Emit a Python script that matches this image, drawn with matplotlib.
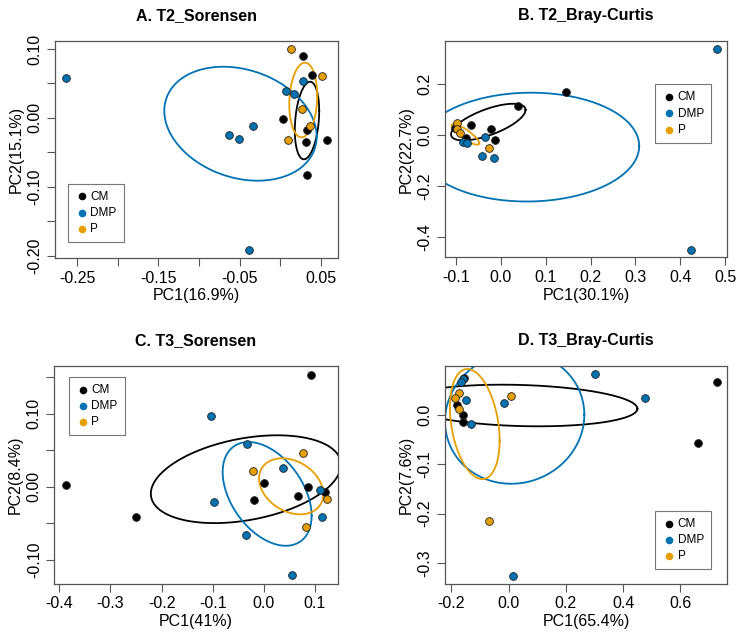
import numpy as np
import matplotlib.pyplot as plt

plt.rcParams['font.family'] = ['Liberation Sans', 'DejaVu Sans']

# colours per treatment
groups = ['CM', 'DMP', 'P']
colors = ['#000000', '#0072B2', '#E69F00']

# ---- A. T2_Sorensen ----
a_cm_x = [0.0276, 0.0394, 0.0038, 0.0325, 0.0313, 0.0571, 0.0325]
a_cm_y = [0.0903, 0.0627, -0.0020, -0.0176, -0.0345, -0.0325, -0.0829]
a_dmp_x = [-0.264, 0.028, 0.007, 0.0165, -0.0336, -0.0635, -0.0512, -0.038]
a_dmp_y = [0.058, 0.054, 0.039, 0.035, -0.0118, -0.0253, -0.0311, -0.192]
a_p_x = [0.0132, 0.0517, 0.0268, 0.037, 0.010]
a_p_y = [0.0996, 0.0608, 0.0134, -0.0113, -0.0316]
# ellipse: centre x, centre y, half width, half height, sin(phase)
a_ell = [(0.0329, -0.0038, 0.015, 0.0563, 0.25),
         (-0.0489, -0.0084, 0.0937, 0.0827, -0.226),
         (0.0283, 0.026, 0.0172, 0.0542, 0.12)]

# ---- B. T2_Bray-Curtis ----
b_cm_x = [0.145, 0.0374, -0.0659, -0.0227, -0.0131, -0.0784, -0.102]
b_cm_y = [0.170, 0.1153, 0.0387, 0.0231, -0.0175, -0.0097, 0.027]
b_dmp_x = [0.4807, 0.4235, -0.036, -0.042, -0.0153, -0.0837, -0.0762]
b_dmp_y = [0.3355, -0.448, -0.007, -0.080, -0.0878, -0.0253, -0.0315]
b_p_x = [-0.097, -0.0985, -0.092, -0.0258]
b_p_y = [0.0465, 0.0243, 0.010, -0.0487]
b_ell = [(-0.028, 0.051, 0.083, 0.0717, 0.665),
         (0.0626, -0.0468, 0.2457, 0.2128, 0.02),
         (-0.079, 0.003, 0.0308, 0.0405, -0.85)]

# ---- C. T3_Sorensen ----
c_cm_x = [0.0915, -0.3876, -0.25, 0.0003, -0.0193, 0.0661, 0.0863, 0.1203]
c_cm_y = [0.1533, 0.0025, -0.0417, 0.0048, -0.0175, -0.013, -0.0007, -0.0075]
c_dmp_x = [-0.104, -0.0323, 0.0381, -0.0982, -0.035, 0.113, 0.055, 0.1099]
c_dmp_y = [0.0968, 0.0585, 0.0262, -0.0212, -0.0663, -0.0417, -0.121, -0.0043]
c_p_x = [0.0759, -0.0219, 0.1235, 0.083]
c_p_y = [0.0462, 0.0221, -0.0166, -0.0549]
c_ell = [(-0.035, 0.0105, 0.186, 0.060, 0.33),
         (0.0065, -0.0096, 0.087, 0.0709, -0.42),
         (0.0535, 0.0008, 0.0629, 0.0383, -0.28)]

# ---- D. T3_Bray-Curtis ----
d_cm_x = [0.728, 0.6606, -0.1558, -0.179, -0.158, -0.1604]
d_cm_y = [0.0654, -0.0573, 0.0735, 0.0196, -0.0007, -0.0142]
d_dmp_x = [0.3019, 0.4766, -0.016, 0.0166, -0.1604, -0.1674, -0.150, -0.1325]
d_dmp_y = [0.0816, 0.033, 0.0243, -0.3256, 0.0721, 0.0654, 0.029, -0.0196]
d_p_x = [0.0096, -0.0696, -0.172, -0.186, -0.172]
d_p_y = [0.0371, -0.2157, 0.0445, 0.033, 0.0115]
d_ell = [(0.04, 0.0186, 0.41, 0.0421, -0.155),
         (0.0213, -0.0067, 0.2433, 0.133, 0.05),
         (-0.118, -0.0189, 0.0868, 0.1113, -0.30)]


def draw_panel(ax, title, xlab, ylab, pts, ells, xlim, ylim,
               xticks, xlabels, yticks, ylabels, leg_loc, leg_anchor):
    t = np.linspace(0, 2 * np.pi, 300)
    for (cx, cy, a, b, s), col in zip(ells, colors):
        ph = np.arcsin(s)
        ax.plot(cx + a * np.cos(t), cy + b * np.sin(t + ph), color=col, lw=1.3, zorder=2)
    for (x, y), col, g in zip(pts, colors, groups):
        ax.scatter(x, y, s=31, c=col, edgecolors='#222222', linewidths=0.6, zorder=3)
        ax.scatter([], [], s=20, c=col, label=g)
    ax.set_xlim(xlim)
    ax.set_ylim(ylim)
    ax.set_xticks(xticks)
    ax.set_xticklabels(xlabels)
    ax.set_yticks(yticks)
    ax.set_yticklabels(ylabels, rotation=90, va='center')
    ax.tick_params(length=6, width=0.8, color='#555555', labelsize=11.5, pad=3)
    for sp in ax.spines.values():
        sp.set_color('#555555')
        sp.set_linewidth(0.9)
    ax.set_title(title, fontsize=11.5, fontweight='bold', pad=15)
    ax.set_xlabel(xlab, fontsize=11.5, labelpad=2)
    ax.set_ylabel(ylab, fontsize=11.5, labelpad=3)
    leg = ax.legend(loc=leg_loc, bbox_to_anchor=leg_anchor, fontsize=8.5, frameon=True,
                    fancybox=False, edgecolor='#555555', handletextpad=0.1,
                    handlelength=1.2, borderpad=0.6, labelspacing=0.35,
                    borderaxespad=0)
    leg.get_frame().set_linewidth(0.8)


fig = plt.figure(figsize=(7.42, 6.35), dpi=100)
axA = fig.add_axes([0.0741, 0.5937, 0.3814, 0.3417])
axB = fig.add_axes([0.5997, 0.5947, 0.3801, 0.3407])
axC = fig.add_axes([0.0732, 0.0808, 0.3819, 0.3433])
axD = fig.add_axes([0.5997, 0.0808, 0.3801, 0.3433])

ax_ticks = [-0.25, -0.2, -0.15, -0.1, -0.05, 0.0, 0.05]
ax_labs = ['-0.25', '', '-0.15', '', '-0.05', '', '0.05']
ay_ticks = [-0.2, -0.15, -0.1, -0.05, 0.0, 0.05, 0.1]
ay_labs = ['-0.20', '', '-0.10', '', '0.00', '', '0.10']
draw_panel(axA, 'A. T2_Sorensen', 'PC1(16.9%)', 'PC2(15.1%)',
           [(a_cm_x, a_cm_y), (a_dmp_x, a_dmp_y), (a_p_x, a_p_y)], a_ell,
           (-0.277, 0.071), (-0.2033, 0.1116), ax_ticks, ax_labs, ay_ticks, ay_labs,
           'lower left', (0.046, 0.074))

bx_ticks = [-0.1, 0.0, 0.1, 0.2, 0.3, 0.4, 0.5]
bx_labs = ['-0.1', '0.0', '0.1', '0.2', '0.3', '0.4', '0.5']
by_ticks = [-0.4, -0.2, 0.0, 0.2]
by_labs = ['-0.4', '-0.2', '0.0', '0.2']
draw_panel(axB, 'B. T2_Bray-Curtis', 'PC1(30.1%)', 'PC2(22.7%)',
           [(b_cm_x, b_cm_y), (b_dmp_x, b_dmp_y), (b_p_x, b_p_y)], b_ell,
           (-0.1245, 0.504), (-0.478, 0.368), bx_ticks, bx_labs, by_ticks, by_labs,
           'upper right', (0.943, 0.800))

cx_ticks = [-0.4, -0.3, -0.2, -0.1, 0.0, 0.1]
cx_labs = ['-0.4', '-0.3', '-0.2', '-0.1', '0.0', '0.1']
cy_ticks = [-0.1, -0.05, 0.0, 0.05, 0.1, 0.15]
cy_labs = ['-0.10', '', '0.00', '', '0.10', '']
draw_panel(axC, 'C. T3_Sorensen', 'PC1(41%)', 'PC2(8.4%)',
           [(c_cm_x, c_cm_y), (c_dmp_x, c_dmp_y), (c_p_x, c_p_y)], c_ell,
           (-0.4098, 0.1445), (-0.1323, 0.1656), cx_ticks, cx_labs, cy_ticks, cy_labs,
           'upper left', (0.052, 0.948))

dx_ticks = [-0.2, 0.0, 0.2, 0.4, 0.6]
dx_labs = ['-0.2', '0.0', '0.2', '0.4', '0.6']
dy_ticks = [-0.3, -0.2, -0.1, 0.0]
dy_labs = ['-0.3', '-0.2', '-0.1', '0.0']
draw_panel(axD, 'D. T3_Bray-Curtis', 'PC1(65.4%)', 'PC2(7.6%)',
           [(d_cm_x, d_cm_y), (d_dmp_x, d_dmp_y), (d_p_x, d_p_y)], d_ell,
           (-0.2221, 0.763), (-0.3418, 0.0991), dx_ticks, dx_labs, dy_ticks, dy_labs,
           'lower right', (0.943, 0.067))

fig.savefig('out.png', dpi=100)
